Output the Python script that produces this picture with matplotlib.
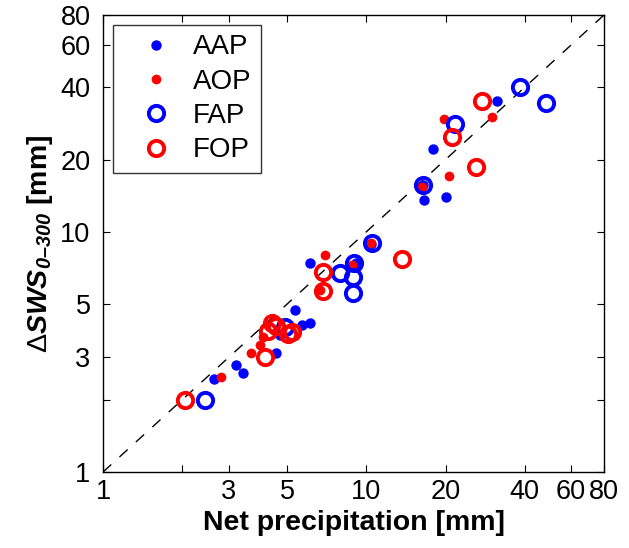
import numpy as np
import matplotlib.pyplot as plt
from matplotlib.ticker import FixedLocator, FixedFormatter, NullLocator

plt.rcParams['font.family'] = ['Liberation Sans', 'DejaVu Sans']
plt.rcParams['mathtext.fontset'] = 'custom'
plt.rcParams['mathtext.rm'] = 'Liberation Sans'
plt.rcParams['mathtext.it'] = 'Liberation Sans:italic'
plt.rcParams['mathtext.bf'] = 'Liberation Sans:bold'
plt.rcParams['mathtext.bfit'] = 'Liberation Sans:bold:italic'

# Net precipitation (x) vs change in soil water storage (y), mm
aap_x = [2.63, 3.2, 3.41, 4.54, 4.71, 5.34, 5.7, 6.13, 6.1, 9.1, 10.4, 16.4, 16.6, 20.0, 17.9, 31.5]
aap_y = [2.43, 2.79, 2.59, 3.14, 3.72, 4.73, 4.1, 4.19, 7.45, 7.4, 8.9, 15.6, 13.6, 14.0, 22.1, 35.2]

aop_x = [2.8, 3.65, 3.95, 4.06, 6.98, 6.7, 8.8, 10.4, 16.3, 20.7, 19.7, 29.9]
aop_y = [2.49, 3.12, 3.38, 3.66, 8.0, 5.7, 7.3, 9.0, 15.4, 17.0, 29.5, 30.1]

fap_x = [2.44, 4.93, 7.96, 8.88, 8.93, 8.95, 10.5, 16.4, 21.7, 38.2, 48.0]
fap_y = [2.0, 4.03, 6.77, 6.5, 5.55, 7.41, 9.0, 15.6, 28.2, 40.2, 34.5]

fop_x = [2.05, 4.12, 4.23, 4.38, 4.53, 5.04, 5.22, 6.85, 6.85, 13.7, 21.2, 26.0, 27.6]
fop_y = [2.0, 3.02, 3.88, 4.19, 4.04, 3.76, 3.84, 6.82, 5.69, 7.7, 24.9, 18.7, 35.2]

ticks = [1, 2, 3, 5, 10, 20, 40, 60, 80]
tick_labels = ['1', '', '3', '5', '10', '20', '40', '60', '80']

fig = plt.figure(figsize=(6.29, 5.48), dpi=100)
ax = fig.add_axes([0.1638, 0.1387, 0.7965, 0.834])

ax.plot([1, 80], [1, 80], color='black', linestyle=(0, (8, 8)), linewidth=1)

ax.plot(aap_x, aap_y, 'o', color='blue', markersize=7.5, markeredgewidth=0, label='AAP')
ax.plot(aop_x, aop_y, 'o', color='red', markersize=7, markeredgewidth=0, label='AOP')
ax.plot(fap_x, fap_y, 'o', color='blue', markerfacecolor='none', markersize=11,
        markeredgewidth=2.8, label='FAP')
ax.plot(fop_x, fop_y, 'o', color='red', markerfacecolor='none', markersize=11,
        markeredgewidth=2.8, label='FOP')

ax.set_xscale('log')
ax.set_yscale('log')
ax.set_xlim(1, 80)
ax.set_ylim(1, 80)

for axis in (ax.xaxis, ax.yaxis):
    axis.set_major_locator(FixedLocator(ticks))
    axis.set_major_formatter(FixedFormatter(tick_labels))
    axis.set_minor_locator(NullLocator())

ax.tick_params(direction='in', top=True, right=True, labelsize=19.5, length=5)
ax.tick_params(axis='x', pad=5)
ax.tick_params(axis='y', pad=9)
for s in ax.spines.values():
    s.set_linewidth(1)

ax.set_xlabel('Net precipitation [mm]', fontsize=20.5, fontweight='bold', labelpad=4)
ax.set_ylabel('$\\Delta\\mathbfit{SWS}_{\\mathbfit{0–300}}$ [mm]',
              fontsize=20.5, fontweight='bold', labelpad=4)

leg = ax.legend(loc='upper left', fontsize=20, frameon=True, fancybox=False,
                edgecolor='black', handletextpad=0.12, borderpad=0.35,
                labelspacing=0.3, handlelength=2.4, borderaxespad=0.35)
leg.get_frame().set_linewidth(1)

plt.savefig('out.png', dpi=100)
